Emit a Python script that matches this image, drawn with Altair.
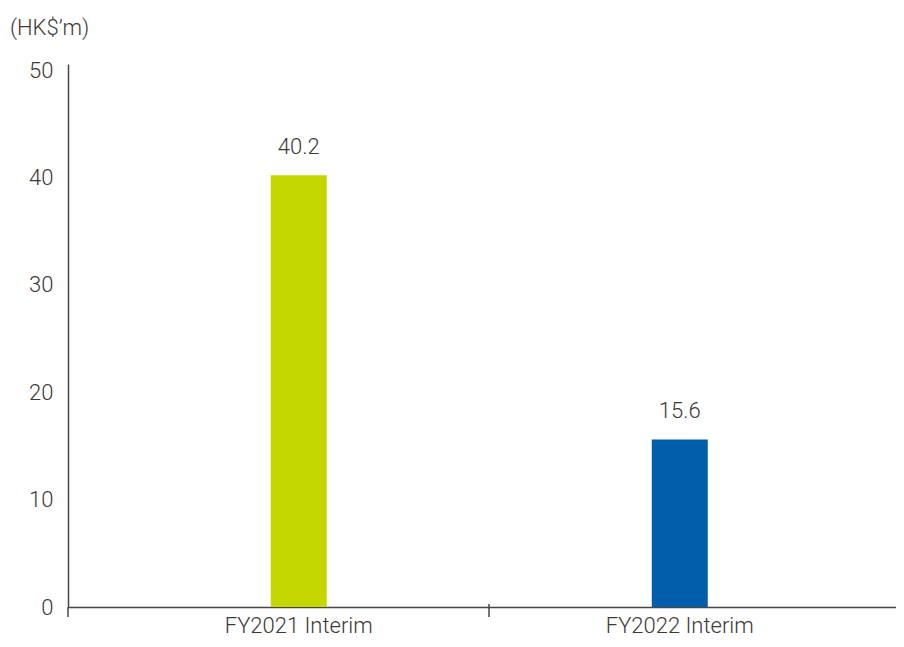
import altair as alt
import pandas as pd

categories = ["FY2021 Interim", "FY2022 Interim"]
values = [40.2, 15.6]
labels = ["40.2", "15.6"]
colors = ["#C4D700", "#005EAA"]
y_ticks = [0, 10, 20, 30, 40, 50]
unit_title = "(HK$’m)"

df = pd.DataFrame({"cat": categories, "val": values, "lab": labels, "col": colors})

FONT = "Roboto"
FW = 300
FS = 22
TXT = "#3d3838"
AX = "#4a4545"
PH = 543

x = alt.X("cat:N", sort=categories, title=None,
          scale=alt.Scale(paddingInner=0, paddingOuter=0.0866, align=0.61),
          axis=alt.Axis(labelAngle=0, ticks=False, labelPadding=8, labelFontSize=FS,
                        labelFont=FONT, labelColor=TXT, labelFontWeight=FW,
                        domainColor=AX, domainWidth=1.5))
y = alt.Y("val:Q", title=None,
          scale=alt.Scale(domain=[0, 50.56], nice=False, zero=True),
          axis=alt.Axis(values=y_ticks, ticks=False, grid=False, labelPadding=15,
                        labelFontSize=FS, labelFont=FONT, labelColor=TXT, labelFontWeight=FW,
                        domainColor=AX, domainWidth=1.5))

base = alt.Chart(df)
bars = base.mark_bar(size=56).encode(x=x, y=y, color=alt.Color("col:N", scale=None))
text = base.mark_text(baseline="bottom", dy=-16, fontSize=FS, font=FONT,
                      fontWeight=FW, color=TXT).encode(x=x, y=y, text="lab:N")

one = alt.Data(values=[{"t": unit_title}])
title_mark = alt.Chart(one).mark_text(align="left", baseline="middle", fontSize=FS,
                                      font=FONT, fontWeight=FW, color=TXT).encode(
    x=alt.value(-58), y=alt.value(-36), text="t:N")
ytail = alt.Chart(one).mark_rule(color=AX, strokeWidth=1.5).encode(
    x=alt.value(0), y=alt.value(PH), y2=alt.value(PH + 10))
midtick = alt.Chart(one).mark_rule(color=AX, strokeWidth=1.5).encode(
    x=alt.value(421), y=alt.value(PH - 3), y2=alt.value(PH + 10))

chart = alt.layer(bars, text, title_mark, ytail, midtick).properties(
    width=828, height=PH,
    autosize=alt.AutoSizeParams(type="none"),
    padding={"left": 60, "top": 56, "right": 0, "bottom": 32},
).configure_view(stroke=None)

chart.save("out.html", embed_options={"renderer": "svg", "actions": False})
